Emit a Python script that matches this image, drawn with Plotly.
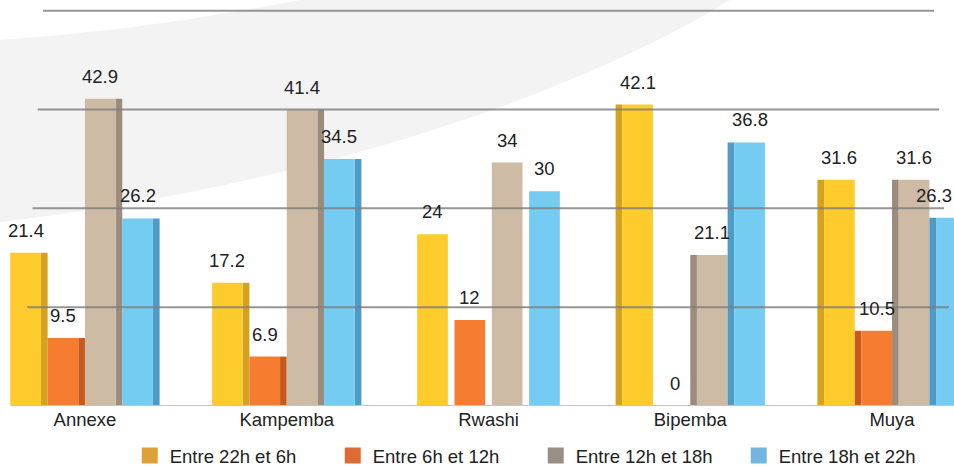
import plotly.graph_objects as go

# ---- data ----
categories = ["Annexe", "Kampemba", "Rwashi", "Bipemba", "Muya"]
series_names = ["Entre 22h et 6h", "Entre 6h et 12h", "Entre 12h et 18h", "Entre 18h et 22h"]
v_22_6 = [21.4, 17.2, 24, 42.1, 31.6]
v_6_12 = [9.5, 6.9, 12, 0, 10.5]
v_12_18 = [42.9, 41.4, 34, 21.1, 31.6]
v_18_22 = [26.2, 34.5, 30, 36.8, 26.3]
series_values = [v_22_6, v_6_12, v_12_18, v_18_22]
grid_values = [13.8, 27.6, 41.4, 55.2]

# ---- styling ----
front_colors = ["#FDCB2B", "#F67C31", "#CDBBA6", "#74CCF2"]
side_colors = ["#D6A11C", "#C9581C", "#9C8C7C", "#4E9BC6"]
legend_colors = ["#DCA236", "#DE6B36", "#9A8F85", "#73B4E0"]
FONT = "Liberation Sans, Arial, Helvetica, sans-serif"
TEXT = "#222222"
FS = 18.5

W, H = 954, 466
ML, MR, MT, MB = 0, 0, 0, 60
PLOT_W = W - ML - MR
PLOT_H = H - MT - MB
X_RANGE = [-0.421, 4.307]
Y_RANGE = [0, 56.7]

slot = 0.185          # width of one bar slot within a group
face = 0.152          # front face width
side = slot - face    # visible side face width
mid = (len(categories) - 1) / 2


def x_to_px(xv):
    return ML + (xv - X_RANGE[0]) / (X_RANGE[1] - X_RANGE[0]) * PLOT_W


def px(xp):
    return (xp - ML) / PLOT_W


def py(yp):
    return 1 - (yp - MT) / PLOT_H


fig = go.Figure()

annotations = []
for s, (name, vals) in enumerate(zip(series_names, series_values)):
    slot_left = -2 * slot + s * slot
    face_off, side_off, side_y = [], [], []
    for i, v in enumerate(vals):
        if i < mid:      # side face visible on the right
            face_off.append(slot_left)
            side_off.append(slot_left + face)
            side_y.append(v)
        elif i > mid:    # side face visible on the left
            face_off.append(slot_left + side)
            side_off.append(slot_left)
            side_y.append(v)
        else:            # centre group seen straight on
            face_off.append(slot_left + side / 2)
            side_off.append(slot_left)
            side_y.append(None)
    xs = list(range(len(categories)))
    fig.add_trace(go.Bar(
        x=xs, y=side_y, offset=side_off, width=[side] * len(xs),
        marker=dict(color=side_colors[s], line=dict(width=0)),
        showlegend=False, hoverinfo="skip",
    ))
    fig.add_trace(go.Bar(
        x=xs, y=vals, offset=face_off, width=[face] * len(xs),
        marker=dict(color=front_colors[s], line=dict(width=0)),
        name=name, showlegend=False,
    ))
    for i, v in enumerate(vals):
        cx = i + face_off[i] + face / 2
        ann = dict(
            x=cx, y=v, xref="x", yref="y",
            text=f"{v:g}", showarrow=False, yanchor="bottom", yshift=10,
            font=dict(family=FONT, size=FS, color=TEXT),
        )
        if x_to_px(cx) > W - 20:   # keep the label inside the page
            ann.update(x=1, xref="paper", xanchor="right")
        annotations.append(ann)

# legend entries with square swatches
for name, col in zip(series_names, legend_colors):
    fig.add_trace(go.Scatter(
        x=[None], y=[None], mode="markers", name=name,
        marker=dict(symbol="square", size=16, color=col),
    ))

# soft background swoosh
pts = {
    "a": (0, 40), "q": (150, 30), "b": (300, 0), "c": (730, 0),
    "c1": (600, 80), "c2": (350, 180), "d": (0, 222),
}
P = {k: f"{px(x):.4f},{py(y):.4f}" for k, (x, y) in pts.items()}
swoosh = (f"M {P['a']} Q {P['q']} {P['b']} L {P['c']} "
          f"C {P['c1']} {P['c2']} {P['d']} Z")
shapes = [dict(type="path", path=swoosh, xref="paper", yref="paper",
               fillcolor="#F3F3F3", line=dict(width=0), layer="below")]

# receding grid lines, drawn over the bars
for g in grid_values:
    x0 = px(22 + 0.38 * g)
    x1 = px(W - 0.36 * g)
    shapes.append(dict(type="line", xref="paper", yref="y", x0=x0, x1=x1,
                       y0=g, y1=g, line=dict(color="#7d7d7d", width=2),
                       opacity=0.8, layer="above"))

# floor line
shapes.append(dict(type="line", xref="paper", yref="y", x0=px(12), x1=1,
                   y0=0, y1=0, line=dict(color="#C4C4C4", width=2),
                   layer="above"))

fig.update_layout(
    width=W, height=H,
    margin=dict(l=ML, r=MR, t=MT, b=MB, autoexpand=False),
    paper_bgcolor="white", plot_bgcolor="white",
    barmode="overlay",
    font=dict(family=FONT, size=FS, color=TEXT),
    xaxis=dict(range=X_RANGE, tickmode="array",
               tickvals=list(range(len(categories))), ticktext=categories,
               showgrid=False, zeroline=False, showline=False, ticks="",
               tickfont=dict(family=FONT, size=FS, color=TEXT),
               fixedrange=True, automargin=False),
    yaxis=dict(range=Y_RANGE, showgrid=False, zeroline=False,
               showticklabels=False, showline=False, fixedrange=True,
               automargin=False),
    legend=dict(orientation="h", x=0.136, xanchor="left",
                y=py(456), yanchor="middle",
                entrywidth=158, entrywidthmode="pixels",
                font=dict(family=FONT, size=FS, color=TEXT),
                bgcolor="rgba(0,0,0,0)"),
    shapes=shapes,
    annotations=annotations,
)

fig.write_html("out.html")
